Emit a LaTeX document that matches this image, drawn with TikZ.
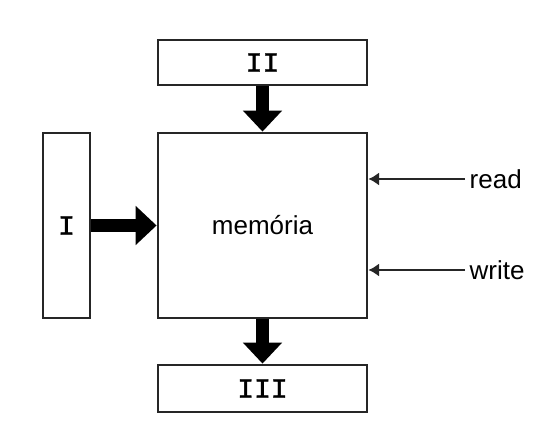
\documentclass[tikz,border=0pt]{standalone}
\usepackage{fontspec}
\setmainfont{Liberation Sans}
\newfontfamily\romfont{Liberation Mono}[RawFeature={embolden=1.3}]
\usetikzlibrary{positioning,arrows.meta}
\tikzset{
blk/.style={draw=black!85, line width=2.1pt, inner sep=0pt,
    font=\romfont\fontsize{21}{24}\selectfont},
fat/.style={draw=black, line width=9.75pt,
    -{Triangle[length=15.75pt,width=28.5pt]}},
sig/.style={draw=black!85, line width=1.8pt,
    -{Latex[length=8pt,width=10pt]}},
lbl/.style={anchor=west, font=\fontsize{19.5}{22}\selectfont}
}

\begin{document}
\begin{tikzpicture}[x=0.75pt,y=-0.75pt]
\useasboundingbox (0,0) rectangle (537,448);

\node[blk, minimum width=156.75pt, minimum height=138.75pt,
    font=\fontsize{19.5}{22}\selectfont] (mem) at (262.5,225.5) {memória};
\node[blk, minimum width=156.75pt, minimum height=33.75pt] (inII) at (262.5,62.5) {II};
\node[blk, minimum width=156.75pt, minimum height=35.25pt] (outIII) at (262.5,388.5) {III};
\node[blk, minimum width=35.25pt, minimum height=138.75pt] (inI) at (66.5,225.5) {I};

\node[lbl] (rd) at (465,179) {read};
\node[lbl] (wr) at (465,270) {write};

\draw[fat] (inII) -- (mem);
\draw[fat] (inI) -- (mem);
\draw[fat] (mem) -- (outIII);

\draw[sig] (rd.west) -- (rd -| mem.east);
\draw[sig] (wr.west) -- (wr -| mem.east);
\end{tikzpicture}
\end{document}
